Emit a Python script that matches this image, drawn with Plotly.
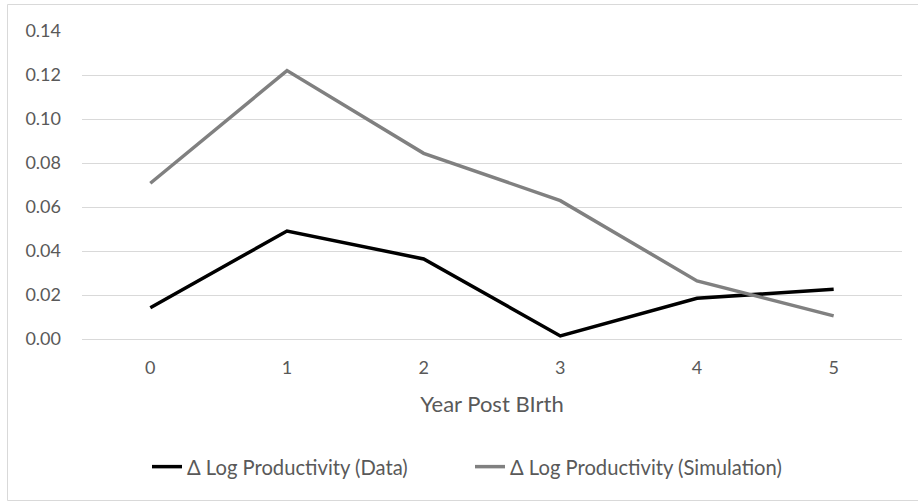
import plotly.graph_objects as go

years = ["0", "1", "2", "3", "4", "5"]
data_vals = [0.0142, 0.0491, 0.0364, 0.0014, 0.0185, 0.0226]
sim_vals = [0.0708, 0.1220, 0.0844, 0.0629, 0.0264, 0.0105]
y_ticks = [0.00, 0.02, 0.04, 0.06, 0.08, 0.10, 0.12, 0.14]

W, H = 918, 502
L, R, T, B = 82, 16, 31, 163
pw, ph = W - L - R, H - T - B


def px_x(p):
    return (p - L) / pw


def px_y(p):
    return (H - B - p) / ph


fig = go.Figure()
fig.add_trace(go.Scatter(
    x=years, y=data_vals, mode="lines",
    name="Δ Log Productivity (Data)",
    line=dict(color="#000000", width=3.5),
))
fig.add_trace(go.Scatter(
    x=years, y=sim_vals, mode="lines",
    name="Δ Log Productivity (Simulation)",
    line=dict(color="#808080", width=3.5),
))

# chart border (Excel style), right edge is cut off in the original
bx0, bx1, by0, by1 = px_x(7.5), px_x(918), px_y(500.5), px_y(4.5)
border = dict(color="#d9d9d9", width=1)
fig.add_shape(type="line", xref="paper", yref="paper", x0=bx0, x1=bx0, y0=by0, y1=by1, line=border, layer="below")
fig.add_shape(type="line", xref="paper", yref="paper", x0=bx0, x1=bx1, y0=by1, y1=by1, line=border, layer="below")
fig.add_shape(type="line", xref="paper", yref="paper", x0=bx0, x1=bx1, y0=by0, y1=by0, line=border, layer="below")

fig.update_layout(
    width=W, height=H,
    margin=dict(l=L, r=R, t=T, b=B),
    paper_bgcolor="white", plot_bgcolor="white",
    font=dict(family="Lato, Noto Sans, sans-serif", color="#595959", size=18),
    showlegend=True,
    legend=dict(orientation="h", x=px_x(470), xanchor="center",
                y=px_y(467), yanchor="middle",
                font=dict(size=20.2, color="#595959"), tracegroupgap=0,
                entrywidth=278),
    xaxis=dict(
        type="category", showgrid=False, zeroline=False, showline=False,
        ticks="", tickfont=dict(size=18), ticklabelstandoff=16,
        title=dict(text="Year Post BIrth", font=dict(size=22), standoff=19),
        range=[-0.5, 5.5],
    ),
    yaxis=dict(
        range=[0, 0.14], tickvals=y_ticks, tickformat=".2f",
        showgrid=True, gridcolor="#d9d9d9", gridwidth=1,
        zeroline=True, zerolinecolor="#d9d9d9", zerolinewidth=1,
        showline=False, ticks="", ticklen=0, tickfont=dict(size=18),
        ticklabelstandoff=20,
    ),
)

fig.write_html("out.html", config={"displayModeBar": False},
               post_script="document.body.style.margin='0';")
